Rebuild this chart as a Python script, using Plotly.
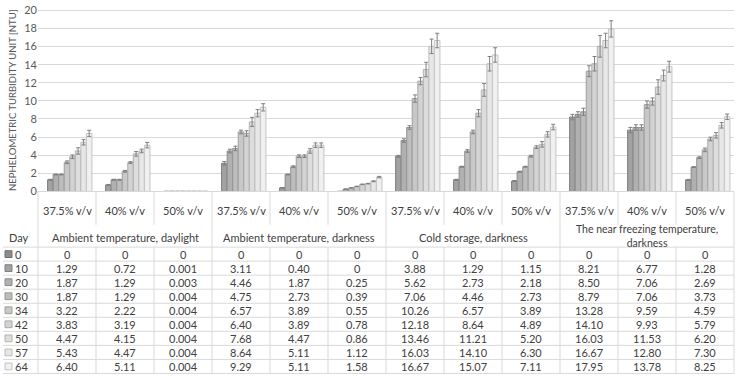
import plotly.graph_objects as go

W, H = 738, 378

categories = ["37.5% v/v", "40% v/v", "50% v/v"] * 4
groups = ["Ambient temperature, daylight", "Ambient temperature, darkness",
          "Cold storage, darkness", "The near freezing temperature,<br>darkness"]
days = ["0", "10", "20", "30", "34", "42", "50", "57", "64"]

# values per day (rows) across the 12 categories
d0 = [0, 0, 0, 0, 0, 0, 0, 0, 0, 0, 0, 0]
d10 = [1.29, 0.72, 0.001, 3.11, 0.40, 0, 3.88, 1.29, 1.15, 8.21, 6.77, 1.28]
d20 = [1.87, 1.29, 0.003, 4.46, 1.87, 0.25, 5.62, 2.73, 2.18, 8.50, 7.06, 2.69]
d30 = [1.87, 1.29, 0.004, 4.75, 2.73, 0.39, 7.06, 4.46, 2.73, 8.79, 7.06, 3.73]
d34 = [3.22, 2.22, 0.004, 6.57, 3.89, 0.55, 10.26, 6.57, 3.89, 13.28, 9.59, 4.59]
d42 = [3.83, 3.19, 0.004, 6.40, 3.89, 0.78, 12.18, 8.64, 4.89, 14.10, 9.93, 5.79]
d50 = [4.47, 4.15, 0.004, 7.68, 4.47, 0.86, 13.46, 11.21, 5.20, 16.03, 11.53, 6.20]
d57 = [5.43, 4.47, 0.004, 8.64, 5.11, 1.12, 16.03, 14.10, 6.30, 16.67, 12.80, 7.30]
d64 = [6.40, 5.11, 0.004, 9.29, 5.11, 1.58, 16.67, 15.07, 7.11, 17.95, 13.78, 8.25]

# estimated error bar half-lengths
e0 = [0] * 12
e10 = [0.05, 0.05, 0, 0.2, 0.03, 0, 0.1, 0.05, 0.05, 0.3, 0.3, 0.05]
e20 = [0.05, 0.05, 0, 0.2, 0.05, 0.02, 0.2, 0.05, 0.05, 0.3, 0.3, 0.05]
e30 = [0.05, 0.05, 0, 0.25, 0.1, 0.02, 0.2, 0.15, 0.05, 0.4, 0.3, 0.1]
e34 = [0.15, 0.1, 0, 0.2, 0.15, 0.02, 0.4, 0.2, 0.1, 0.6, 0.4, 0.2]
e42 = [0.2, 0.1, 0, 0.3, 0.15, 0.03, 0.4, 0.4, 0.15, 0.8, 0.4, 0.2]
e50 = [0.35, 0.25, 0, 0.5, 0.25, 0.03, 0.8, 0.7, 0.3, 1.2, 0.8, 0.3]
e57 = [0.3, 0.2, 0, 0.4, 0.25, 0.05, 0.8, 0.8, 0.3, 0.8, 0.6, 0.3]
e64 = [0.35, 0.3, 0, 0.4, 0.25, 0.08, 0.8, 0.8, 0.3, 0.9, 0.6, 0.3]

series = [d0, d10, d20, d30, d34, d42, d50, d57, d64]
errors = [e0, e10, e20, e30, e34, e42, e50, e57, e64]

fills = ["#8c8c8c", "#a2a2a2", "#b0b0b0", "#bdbdbd", "#c8c8c8",
         "#d3d3d3", "#dddddd", "#e7e7e7", "#f0f0f0"]
lines = ["#6e6e6e", "#7e7e7e", "#8a8a8a", "#959595", "#9e9e9e",
         "#a8a8a8", "#b2b2b2", "#bcbcbc", "#c4c4c4"]

FONT = "Lato"
TXT = "#404040"
GRID = "#d9d9d9"

x_idx = list(range(len(categories)))

fig = go.Figure()
for i, (vals, errs) in enumerate(zip(series, errors)):
    fig.add_trace(go.Bar(
        x=x_idx, y=vals, name=days[i],
        marker=dict(color=fills[i], line=dict(color=lines[i], width=0 if i == 0 else 1)),
        error_y=dict(type="data", array=errs, visible=i > 0, color="#7f7f7f",
                     thickness=1, width=2),
        showlegend=False,
    ))

def px(x):
    return x / W

def py(y):
    return 1 - y / H

X0, X1 = 38, 734
CW = (X1 - X0) / 12
AX_Y = 191.5
PPU = (191.5 - 4.5) / 20.0     # pixels per unit
YMAX = 20.15
TOP_Y = AX_Y - YMAX * PPU
CAT_BOT = 226
HDR_BOT = 249
ROW_H = 14.5

fig.update_layout(
    width=W, height=H,
    margin=dict(l=0, r=0, t=0, b=0),
    paper_bgcolor="white", plot_bgcolor="white",
    barmode="group", bargap=0.14, bargroupgap=0,
    font=dict(family=FONT, color=TXT, size=11),
    xaxis=dict(domain=[px(X0), px(X1)], range=[-0.5, 11.5], showticklabels=False,
               showgrid=False, zeroline=False, showline=True, linecolor=GRID, linewidth=1,
               fixedrange=True),
    yaxis=dict(domain=[py(AX_Y), py(TOP_Y)], range=[0, YMAX], tickvals=list(range(0, 21, 2)),
               showgrid=True, gridcolor=GRID, gridwidth=1, zeroline=False, showline=False,
               ticklabeloverflow="allow",
               tickfont=dict(family=FONT, size=11, color="#595959"), ticks="",
               title=dict(text="NEPHELOMETRIC TURBIDITY UNIT [NTU]",
                          font=dict(family=FONT, size=9.5, color="#595959"), standoff=5)),
)

shapes = []
annotations = []

def hline(x0, x1, y):
    shapes.append(dict(type="line", xref="paper", yref="paper", x0=px(x0), x1=px(x1),
                       y0=py(y), y1=py(y), line=dict(color=GRID, width=1)))

def vline(x, y0, y1):
    shapes.append(dict(type="line", xref="paper", yref="paper", x0=px(x), x1=px(x),
                       y0=py(y0), y1=py(y1), line=dict(color=GRID, width=1)))

n_rows = len(days)
TAB_BOT = HDR_BOT + n_rows * ROW_H

# horizontal lines
for r in range(n_rows + 1):
    hline(3, X1, HDR_BOT + r * ROW_H)

# vertical lines
for c in range(13):
    x = X0 + c * CW
    if c % 3 == 0:
        vline(x, AX_Y, TAB_BOT)
    else:
        vline(x, AX_Y, CAT_BOT)
        vline(x, HDR_BOT, TAB_BOT)

# category labels
for c, lab in enumerate(categories):
    annotations.append(dict(x=c, xref="x", y=py(211), yref="paper",
                            text=lab, showarrow=False, xanchor="center", yanchor="middle",
                            font=dict(size=11, color=TXT)))

# group headers
for g, lab in enumerate(groups):
    annotations.append(dict(x=3 * g + 1, xref="x", y=py(237.5 if "<br>" in lab else 239),
                            yref="paper", text=lab, showarrow=False,
                            xanchor="center", yanchor="middle",
                            font=dict(size=11 if "<br>" not in lab else 10.5, color=TXT)))

annotations.append(dict(x=px(19), xref="paper", y=py(239), yref="paper",
                        text="Day", showarrow=False, xanchor="center", yanchor="middle",
                        font=dict(size=11, color=TXT)))

def fmt(v):
    if v == 0:
        return "0"
    if v < 0.01:
        return f"{v:.3f}"
    return f"{v:.2f}"

for r in range(n_rows):
    yc = HDR_BOT + (r + 0.5) * ROW_H
    # legend key
    shapes.append(dict(type="rect", xref="paper", yref="paper",
                       x0=px(5), x1=px(12), y0=py(yc - 3.5), y1=py(yc + 3.5),
                       fillcolor=fills[r], line=dict(color=lines[r], width=1)))
    annotations.append(dict(x=px(13), xref="paper", y=py(yc), yref="paper",
                            text=days[r], showarrow=False, xanchor="left", yanchor="middle",
                            font=dict(size=11, color=TXT)))
    for c in range(12):
        annotations.append(dict(x=c, xref="x", y=py(yc), yref="paper",
                                text=fmt(series[r][c]), showarrow=False,
                                xanchor="center", yanchor="middle",
                                font=dict(size=11, color=TXT)))

fig.update_layout(shapes=shapes, annotations=annotations)

fig.write_html("out.html", config={"displayModeBar": False},
               post_script="document.body.style.margin='0';document.body.style.overflow='hidden';")
